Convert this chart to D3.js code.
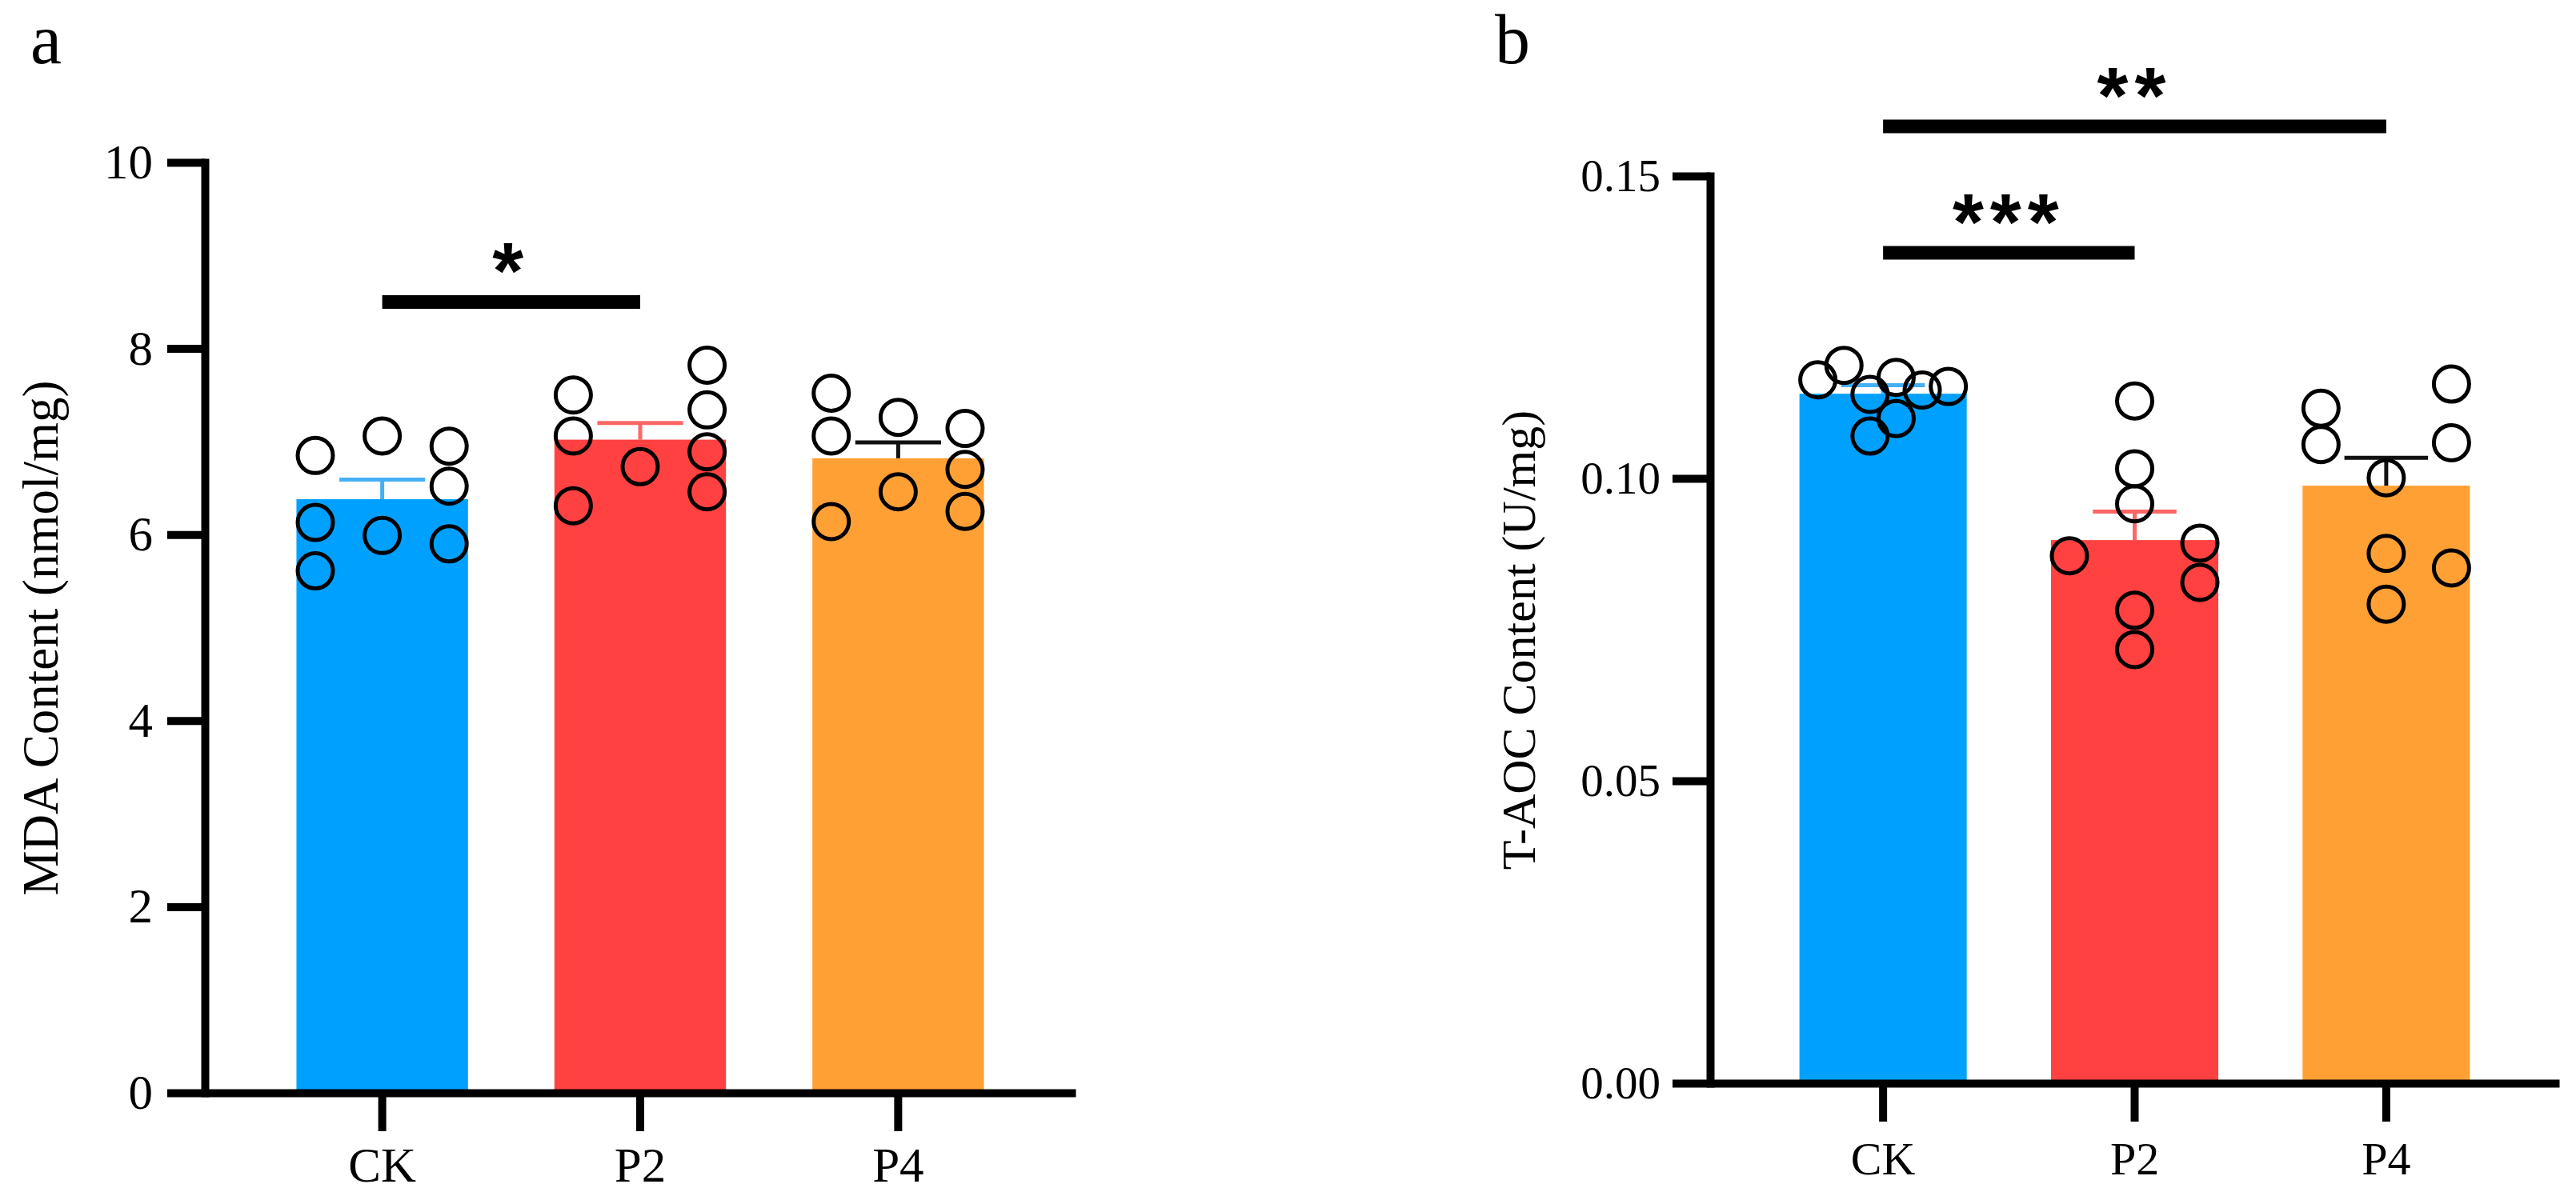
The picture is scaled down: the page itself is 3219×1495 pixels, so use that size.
<!DOCTYPE html>
<html lang="en">
<head>
<meta charset="UTF-8">
<title>MDA and T-AOC content</title>
<script src="https://d3js.org/d3.v7.min.js"></script>
<style>
  body { margin: 0; background: #fff; }
</style>
</head>
<body>
<script>
// groups and colours
const groups = ['CK', 'P2', 'P4'];
const barColors = ['#00a1fe', '#ff4141', '#ffa035'];
const errColors = ['#45b0f5', '#ff6666', '#111111'];

// panel a: MDA content (nmol/mg)
const mdaTicks = [0, 2, 4, 6, 8, 10];
const mdaMean = [6.38, 7.02, 6.82];
const mdaSem = [0.21, 0.18, 0.17];
const mdaPoints = [
  [6.85, 7.06, 6.95, 6.52, 6.13, 5.99, 5.90, 5.61],
  [7.50, 7.06, 6.31, 6.73, 7.82, 7.34, 6.89, 6.46],
  [7.52, 7.06, 6.14, 7.26, 6.46, 7.14, 6.70, 6.25]
];
// horizontal slot of each point inside its bar (scatter spread)
const mdaSlots = [
  [-2.5, 0, 2.5, 2.5, -2.5, 0, 2.5, -2.5],
  [-2.5, -2.5, -2.5, 0, 2.5, 2.5, 2.5, 2.5],
  [-2.5, -2.5, -2.5, 0, 0, 2.5, 2.5, 2.5]
];
const mdaSig = [{ from: 'CK', to: 'P2', value: 8.5, label: '*' }];

// panel b: T-AOC content (U/mg)
const taocTicks = [0, 0.05, 0.10, 0.15];
const taocMean = [0.1140, 0.0898, 0.0988];
const taocSem = [0.0014, 0.0047, 0.0046];
const taocPoints = [
  [0.1163, 0.1187, 0.1139, 0.1167, 0.1146, 0.1152, 0.1099, 0.1070],
  [0.1128, 0.1016, 0.0958, 0.0872, 0.0893, 0.0828, 0.0782, 0.0717],
  [0.1116, 0.1056, 0.1156, 0.1059, 0.1001, 0.0876, 0.0852, 0.0792]
];
const taocSlots = [
  [-2.5, -1.5, -0.5, 0.5, 1.5, 2.5, 0.5, -0.5],
  [0, 0, 0, -2.5, 2.5, 2.5, 0, 0],
  [-2.5, -2.5, 2.5, 2.5, 0, 0, 2.5, 0]
];
const taocSig = [
  { from: 'CK', to: 'P4', value: 0.1582, label: '**' },
  { from: 'CK', to: 'P2', value: 0.1373, label: '***' }
];

const width = 3219;
const height = 1495;
const serif = '"Liberation Serif", "Times New Roman", serif';

const svg = d3.select('body')
  .append('svg')
  .attr('width', width)
  .attr('height', height);

function drawPanel(o) {
  const g = svg.append('g');

  const x = d3.scaleBand()
    .domain(groups)
    .range([o.left, o.right])
    .paddingInner(0.335)
    .paddingOuter(0.355);

  const y = d3.scaleLinear()
    .domain([0, o.ticks[o.ticks.length - 1]])
    .range([o.bottom, o.top]);

  const bw = x.bandwidth();
  const slot = bw * 0.156;

  // bars
  g.selectAll('rect.bar')
    .data(groups)
    .join('rect')
    .attr('class', 'bar')
    .attr('x', d => x(d))
    .attr('width', bw)
    .attr('y', (d, i) => y(o.mean[i]))
    .attr('height', (d, i) => y(0) - y(o.mean[i]))
    .attr('fill', (d, i) => barColors[i]);

  // error bars (mean + SEM)
  const err = g.selectAll('g.err')
    .data(groups)
    .join('g')
    .attr('class', 'err')
    .attr('stroke', (d, i) => errColors[i])
    .attr('stroke-width', 5);
  err.append('line')
    .attr('x1', d => x(d) + bw / 2)
    .attr('x2', d => x(d) + bw / 2)
    .attr('y1', (d, i) => y(o.mean[i]))
    .attr('y2', (d, i) => y(o.mean[i] + o.sem[i]));
  err.append('line')
    .attr('x1', d => x(d) + bw / 4)
    .attr('x2', d => x(d) + bw * 3 / 4)
    .attr('y1', (d, i) => y(o.mean[i] + o.sem[i]))
    .attr('y2', (d, i) => y(o.mean[i] + o.sem[i]));

  // individual points
  const pts = [];
  groups.forEach((grp, i) => {
    o.points[i].forEach((v, j) => pts.push({ grp, v, s: o.slots[i][j] }));
  });
  g.selectAll('circle.pt')
    .data(pts)
    .join('circle')
    .attr('class', 'pt')
    .attr('cx', d => x(d.grp) + bw / 2 + d.s * slot)
    .attr('cy', d => y(d.v))
    .attr('r', 22)
    .attr('fill', 'none')
    .attr('stroke', '#000')
    .attr('stroke-width', 5);

  // y axis
  const yAxis = g.append('g')
    .attr('transform', `translate(${o.left},0)`)
    .call(d3.axisLeft(y)
      .tickValues(o.ticks)
      .tickFormat(o.fmt)
      .tickSize(47)
      .tickSizeOuter(0)
      .tickPadding(o.yPad));
  yAxis.select('.domain').attr('stroke-width', 10).attr('stroke-linecap', 'square');
  yAxis.selectAll('.tick line').attr('stroke-width', 10);
  yAxis.selectAll('.tick text')
    .attr('font-family', serif)
    .attr('font-size', o.tickFont)
    .attr('fill', '#000');

  // x axis
  const xAxis = g.append('g')
    .attr('transform', `translate(0,${o.bottom})`)
    .call(d3.axisBottom(x).tickSize(48).tickSizeOuter(0));
  xAxis.select('.domain').attr('stroke-width', 10);
  xAxis.selectAll('.tick line').attr('stroke-width', 10);
  xAxis.selectAll('.tick text')
    .attr('dy', null)
    .attr('y', o.xLabelY)
    .attr('font-family', serif)
    .attr('font-size', o.catFont)
    .attr('fill', '#000');

  // y title
  g.append('text')
    .attr('transform', `translate(${o.titleX},${(o.top + o.bottom) / 2 + 13}) rotate(-90)`)
    .attr('text-anchor', 'middle')
    .attr('dominant-baseline', 'central')
    .attr('font-family', serif)
    .attr('font-size', o.titleFont)
    .text(o.title);

  // significance brackets
  o.sig.forEach(s => {
    const x1 = x(s.from) + bw / 2;
    const x2 = x(s.to) + bw / 2;
    g.append('line')
      .attr('x1', x1).attr('x2', x2)
      .attr('y1', y(s.value)).attr('y2', y(s.value))
      .attr('stroke', '#000')
      .attr('stroke-width', 17);
    g.append('text')
      .attr('x', (x1 + x2) / 2)
      .attr('y', y(s.value) - 4)
      .attr('text-anchor', 'middle')
      .attr('font-family', '"Liberation Sans", Arial, sans-serif')
      .attr('font-weight', 'bold')
      .attr('font-size', 100)
      .attr('letter-spacing', 8)
      .text(s.label);
  });

  // panel letter
  svg.append('text')
    .attr('x', o.letterX)
    .attr('y', 79)
    .attr('font-family', serif)
    .attr('font-size', 88)
    .text(o.letter);
}

drawPanel({
  letter: 'a', letterX: 38,
  left: 256, right: 1344, top: 203, bottom: 1366,
  ticks: mdaTicks, fmt: d3.format('d'),
  mean: mdaMean, sem: mdaSem, points: mdaPoints, slots: mdaSlots, sig: mdaSig,
  title: 'MDA Content (nmol/mg)', titleX: 51, titleFont: 63,
  tickFont: 61, yPad: 18, catFont: 61, xLabelY: 111
});

drawPanel({
  letter: 'b', letterX: 1868,
  left: 2137, right: 3198, top: 220, bottom: 1354,
  ticks: taocTicks, fmt: d3.format('.2f'),
  mean: taocMean, sem: taocSem, points: taocPoints, slots: taocSlots, sig: taocSig,
  title: 'T-AOC Content (U/mg)', titleX: 1898, titleFont: 60,
  tickFont: 57, yPad: 15, catFont: 58, xLabelY: 114
});
</script>
</body>
</html>
